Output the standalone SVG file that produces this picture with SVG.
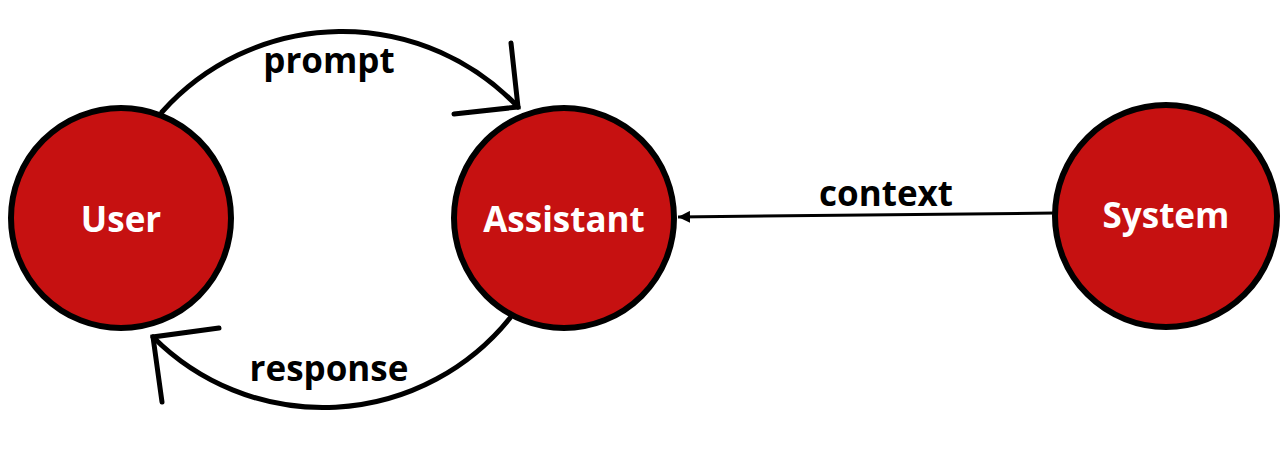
<svg xmlns="http://www.w3.org/2000/svg" width="1288" height="456" viewBox="0 0 1288 456">
<style>
.node{fill:#c61111;stroke:#000;stroke-width:6}
.nl{font-family:"Open Sans","Liberation Sans",sans-serif;font-weight:700;font-size:35px;fill:#fff;text-anchor:middle}
.el{font-family:"Open Sans","Liberation Sans",sans-serif;font-weight:700;font-size:35px;fill:#000;text-anchor:middle}
.arc{fill:none;stroke:#000;stroke-width:5;stroke-linecap:round}
.thin{fill:none;stroke:#000;stroke-width:3}
</style>
<defs>
<marker id="tri" markerWidth="12" markerHeight="12" refX="10" refY="5" orient="auto" markerUnits="userSpaceOnUse" viewBox="0 0 10 10">
<path d="M0,0 L10,5 L0,10 z" fill="#000"/>
</marker>
</defs>
<rect width="1288" height="456" fill="#fff"/>
<g id="connectors">
<path class="arc" d="M162,112 A242 242 0 0 1 518,107"/>
<path class="arc" d="M511,43 L518,107 L454,114"/>
<path class="arc" d="M510,318 A240 240 0 0 1 153,337"/>
<path class="arc" d="M219,328 L153,337 L162,402"/>
<line class="thin" x1="1055" y1="213" x2="678" y2="217" marker-end="url(#tri)"/>
<text class="el" x="329" y="73">prompt</text>
<text class="el" x="329" y="381">response</text>
<text class="el" x="886" y="206">context</text>
</g>
<g id="user">
<circle class="node" cx="121" cy="218" r="110"/>
<text class="nl" x="121" y="232">User</text>
</g>
<g id="assistant">
<circle class="node" cx="564" cy="218" r="110"/>
<text class="nl" x="564" y="232">Assistant</text>
</g>
<g id="system">
<circle class="node" cx="1166" cy="216" r="111"/>
<text class="nl" x="1166" y="228">System</text>
</g>
</svg>
